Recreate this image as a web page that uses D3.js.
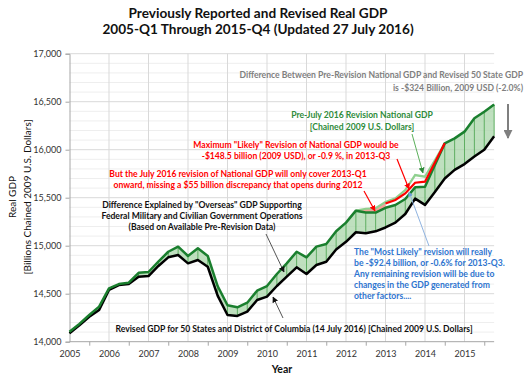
<!DOCTYPE html>
<html>
<head>
<meta charset="utf-8">
<script src="https://cdn.jsdelivr.net/npm/d3@7"></script>
<style>
  body { margin: 0; background: #fff; }
  text { font-family: Lato, "Open Sans", sans-serif; }
</style>
</head>
<body>
<div id="chart"></div>
<script>
// quarterly values, 2005-Q1 .. 2015-Q4 (billions, chained 2009 USD)
var years = [2005, 2006, 2007, 2008, 2009, 2010, 2011, 2012, 2013, 2014, 2015];
var yTicks = [14000, 14500, 15000, 15500, 16000, 16500, 17000];

// upper edge of the shaded band (states + overseas)
var upperGdp = [14104, 14185, 14278, 14365, 14556, 14600, 14615, 14718,
  14726, 14833, 14937, 14990, 14893, 14973, 14893, 14580,
  14380, 14358, 14406, 14531, 14580, 14705, 14816, 14937,
  14879, 14990, 15018, 15150, 15240, 15365, 15345, 15345,
  15395, 15424, 15486, 15608, 15615, 15840, 16066, 16118,
  16188, 16327, 16396, 16470];

// revised 50 states + DC
var stateGdp = [14087, 14170, 14260, 14330, 14540, 14590, 14600, 14677,
  14684, 14789, 14879, 14903, 14816, 14851, 14781, 14480,
  14278, 14268, 14313, 14434, 14469, 14580, 14677, 14775,
  14705, 14799, 14833, 14960, 15040, 15140, 15130, 15150,
  15190, 15240, 15330, 15490, 15425, 15560, 15700, 15790,
  15850, 15930, 16000, 16140];

// pre-July 2016 national, where it differs from the band (2012-Q2 .. 2014-Q3)
var nationalStart = 29;
var nationalGdp = [15365, 15385, 15390, 15455, 15494, 15580, 15736, 15719, 15890, 16066];

// maximum "likely" revision (2013-Q1 .. 2014-Q3)
var redStart = 32;
var revisedGdp = [15440, 15476, 15545, 15656, 15667, 15866, 16066];

var width = 529, height = 379;

var x = d3.scaleLinear().domain([2005, 2015]).range([69.5, 464.5]);
var y = d3.scaleLinear().domain([14000, 17000]).range([341.7, 53.7]);
var xEnd = 2015.75;

function qx(i) { return x(2005 + i / 4); }

var svg = d3.select("#chart").append("svg")
    .attr("width", width)
    .attr("height", height);

var defs = svg.append("defs");
function marker(id, color, size) {
  defs.append("marker")
      .attr("id", id)
      .attr("viewBox", "0 0 10 10")
      .attr("refX", 9).attr("refY", 5)
      .attr("markerWidth", size).attr("markerHeight", size)
      .attr("markerUnits", "userSpaceOnUse")
      .attr("orient", "auto")
    .append("path")
      .attr("d", "M0,0L10,5L0,10Z")
      .attr("fill", color);
}
marker("arBlack", "#111", 6);
marker("arRed", "#ff0000", 6);
marker("arGreen", "#2e8b3a", 6);
marker("arBlue", "#6f9fd8", 5);
marker("arGray", "#7f7f7f", 9);

// gridlines
var grid = svg.append("g");
grid.selectAll(".minor")
    .data(d3.range(14100, 17000, 100).filter(function(d) { return d % 500 != 0; }))
  .enter().append("line")
    .attr("x1", x(2005)).attr("x2", x(xEnd))
    .attr("y1", y).attr("y2", y)
    .attr("stroke", "#eeeeee").attr("stroke-width", 1);
grid.selectAll(".major")
    .data(yTicks.slice(1))
  .enter().append("line")
    .attr("x1", x(2005)).attr("x2", x(xEnd))
    .attr("y1", y).attr("y2", y)
    .attr("stroke", "#d9d9d9").attr("stroke-width", 1);
grid.selectAll(".vert")
    .data(years.slice(1))
  .enter().append("line")
    .attr("x1", x).attr("x2", x)
    .attr("y1", y(14000)).attr("y2", y(17000))
    .attr("stroke", "#d9d9d9").attr("stroke-width", 1);

// axes
var yAxis = d3.axisLeft(y).tickValues(yTicks).tickSize(4).tickFormat(d3.format(","));
var gy = svg.append("g").attr("transform", "translate(" + x(2005) + ",0)").call(yAxis);
gy.select(".domain").attr("stroke", "#a6a6a6");
gy.selectAll(".tick line").attr("stroke", "#a6a6a6");
gy.selectAll("text").attr("font-size", 9).attr("fill", "#333").attr("dx", -1);

var xAxis = d3.axisBottom(x).tickValues(d3.range(2005, 2015.76, 0.5)).tickSize(4)
    .tickFormat(function(d) { return d % 1 == 0 ? d : ""; });
var gx = svg.append("g").attr("transform", "translate(0," + y(14000) + ")").call(xAxis);
gx.select(".domain").attr("stroke", "#a6a6a6").attr("d", "M" + x(2005) + ",0H" + x(xEnd));
gx.selectAll(".tick line").attr("stroke", "#a6a6a6")
    .attr("y2", function(d) { return d % 1 == 0 ? 0 : 4; });
gx.selectAll("text").attr("font-size", 9).attr("fill", "#333").attr("dy", "0.9em");

// shaded band between states and upper line
var idx = d3.range(upperGdp.length);
var band = d3.area()
    .x(function(i) { return qx(i); })
    .y0(function(i) { return y(stateGdp[i]); })
    .y1(function(i) { return y(upperGdp[i]); });
svg.append("path").datum(idx)
    .attr("d", band)
    .attr("fill", "#a9d6a9").attr("fill-opacity", 0.75);
svg.selectAll(".drop")
    .data(idx)
  .enter().append("line")
    .attr("x1", qx).attr("x2", qx)
    .attr("y1", function(i) { return y(stateGdp[i]); })
    .attr("y2", function(i) { return y(upperGdp[i]); })
    .attr("stroke", "#5fae62").attr("stroke-width", 1);

// pink discrepancy 2012
var pinkIdx = d3.range(nationalStart, redStart + 1);
svg.append("path").datum(pinkIdx)
    .attr("d", d3.area()
      .x(function(i) { return qx(i); })
      .y0(function(i) { return y(upperGdp[i]); })
      .y1(function(i) { return y(nationalGdp[i - nationalStart]); }))
    .attr("fill", "#f2a39a");

var line = d3.line();
svg.append("path")
    .attr("d", line(nationalGdp.map(function(v, k) { return [qx(nationalStart + k), y(v)]; })))
    .attr("fill", "none").attr("stroke", "#8fd08f").attr("stroke-width", 2.2);
svg.append("path")
    .attr("d", line(stateGdp.map(function(v, i) { return [qx(i), y(v)]; })))
    .attr("fill", "none").attr("stroke", "#000").attr("stroke-width", 2.5)
    .attr("stroke-linejoin", "round");
svg.append("path")
    .attr("d", line(upperGdp.map(function(v, i) { return [qx(i), y(v)]; })))
    .attr("fill", "none").attr("stroke", "#1a7f2e").attr("stroke-width", 2.5)
    .attr("stroke-linejoin", "round");
svg.append("path")
    .attr("d", line(revisedGdp.map(function(v, k) { return [qx(redStart + k), y(v)]; })))
    .attr("fill", "none").attr("stroke", "#ff0000").attr("stroke-width", 2.2);

// titles
var title = svg.append("g").attr("font-weight", "bold").attr("font-size", 13.6)
    .attr("text-anchor", "middle").attr("fill", "#111");
title.append("text").attr("x", 258).attr("y", 18).text("Previously Reported and Revised Real GDP");
title.append("text").attr("x", 258).attr("y", 34).text("2005-Q1 Through 2015-Q4 (Updated 27 July 2016)");

svg.append("text")
    .attr("transform", "translate(16,197)rotate(-90)")
    .attr("text-anchor", "middle").attr("font-size", 10).attr("fill", "#111")
    .text("Real GDP");
svg.append("text")
    .attr("transform", "translate(31,197)rotate(-90)")
    .attr("text-anchor", "middle").attr("font-size", 10).attr("fill", "#111")
    .text("[Billions Chained 2009 U.S. Dollars]");
svg.append("text")
    .attr("x", 282).attr("y", 373)
    .attr("text-anchor", "middle").attr("font-size", 10.5).attr("font-weight", "bold").attr("fill", "#111")
    .text("Year");

// annotations
function note(lines, xp, y0, dy, anchor, color) {
  var t = svg.append("text").attr("font-size", 8.6).attr("font-weight", "bold")
      .attr("fill", color).attr("text-anchor", anchor);
  lines.forEach(function(s, k) {
    t.append("tspan").attr("x", xp).attr("y", y0 + k * dy).text(s);
  });
}
function arrow(x1, y1, x2, y2, color, id, w) {
  svg.append("line")
      .attr("x1", x1).attr("y1", y1).attr("x2", x2).attr("y2", y2)
      .attr("stroke", color).attr("stroke-width", w || 1)
      .attr("marker-end", "url(#" + id + ")");
}

note(["Difference Between Pre-Revision National GDP and Revised 50 State GDP",
      "is -$324 Billion, 2009 USD (-2.0%)"], 523, 77.5, 13.5, "end", "#808080");
arrow(508, 104, 508, 138, "#7f7f7f", "arGray", 2);

note(["Pre-July 2016 Revision National GDP",
      "[Chained 2009 U.S. Dollars]"], 362, 118, 12, "middle", "#2e8b3a");
arrow(412, 134, 423, 173, "#5bb05b", "arGreen", 1);

note(["Maximum \"Likely\" Revision of National GDP would be",
      "-$148.5 billion (2009 USD), or -0.9 %, in 2013-Q3"], 296, 147.5, 11, "middle", "#ff0000");
arrow(397, 159, 409, 189, "#ff0000", "arRed", 1.2);

note(["But the July 2016 revision of National GDP will only cover 2013-Q1",
      "onward, missing a $55 billion discrepancy that opens during 2012"], 238, 177, 11, "middle", "#ff0000");
arrow(364, 191, 375, 211, "#ff0000", "arRed", 1.2);

note(["Difference Explained by \"Overseas\" GDP Supporting",
      "Federal Military and Civilian Government Operations",
      "(Based on Available Pre-Revision Data)"], 202, 208, 11, "middle", "#111");
arrow(266, 234, 284, 272, "#555", "arBlack", 1);

note(["The \"Most Likely\" revision will really",
      "be -$92.4 billion, or -0.6% for 2013-Q3.",
      "Any remaining revision will be due to",
      "changes in the GDP generated from",
      "other factors...."], 354, 255, 11.1, "start", "#2e75d0");
arrow(429, 246, 409, 192, "#8fb3e0", "arBlue", 1);

note(["Revised GDP for 50 States and District of Columbia (14 July 2016) [Chained 2009 U.S. Dollars]"],
     294, 332, 11, "middle", "#111");
arrow(283, 318, 273, 297, "#555", "arBlack", 1);
</script>
</body>
</html>
